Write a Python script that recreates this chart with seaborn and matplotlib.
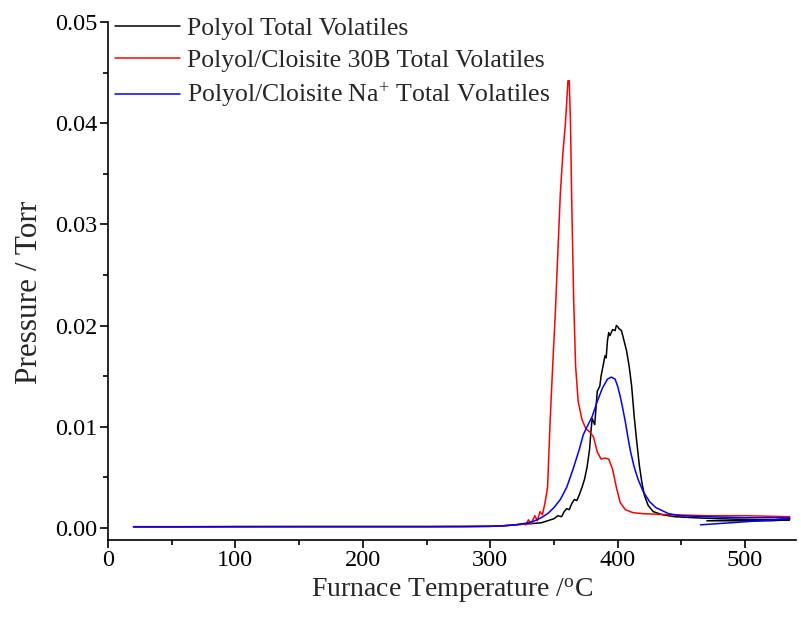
import matplotlib
matplotlib.use("Agg")
import matplotlib.pyplot as plt
from matplotlib.ticker import MultipleLocator, FormatStrFormatter
import seaborn as sns
import pandas as pd

# Furnace temperature (°C) and total volatile pressure (Torr) for each sample.
# The last points of some series follow the furnace back as it cools.
polyol_temp = [20, 50, 100, 150, 200, 250, 280, 300, 310, 320, 330, 340, 345, 350, 353,
               356, 358, 360, 362, 364, 366, 368, 370, 372, 374, 376, 378, 379, 380, 382,
               384, 386, 387, 389, 390, 391, 392, 393, 394, 396, 398, 399, 400, 401, 403,
               405, 407, 409, 411, 413, 415, 417, 419, 421, 424, 428, 435, 445, 460, 480,
               510, 535, 520, 490, 470]
polyol_p = [0.0001, 0.0001, 0.00012, 0.00012, 0.00012, 0.00012, 0.00013, 0.00015, 0.0002,
            0.0003, 0.0004, 0.0005, 0.0007, 0.0009, 0.0012, 0.0011, 0.0016, 0.0019, 0.0018,
            0.0024, 0.0028, 0.0027, 0.0033, 0.0040, 0.0048, 0.0060, 0.0078, 0.0095, 0.0108,
            0.0102, 0.0135, 0.0140, 0.0150, 0.0163, 0.0170, 0.0168, 0.0185, 0.0193, 0.0190,
            0.0196, 0.0195, 0.0200, 0.0199, 0.0197, 0.0195, 0.0185, 0.0175, 0.0160, 0.0140,
            0.0110, 0.0085, 0.0062, 0.0045, 0.0032, 0.0022, 0.0016, 0.0013, 0.0011, 0.0010,
            0.0009, 0.0008, 0.0008, 0.0007, 0.0007, 0.0007]

c30b_temp = [20, 50, 100, 150, 200, 250, 280, 300, 310, 320, 325, 328, 330, 332, 335, 337,
             339, 341, 343, 345, 347, 349, 351, 353, 355, 357, 359, 360, 361, 362, 363,
             364, 365.5, 367, 369, 372, 375, 378, 381, 384, 387, 390, 393, 396, 399, 402,
             406, 412, 420, 440, 470, 500, 535]
c30b_p = [0.00012, 0.00012, 0.00013, 0.00013, 0.00013, 0.00013, 0.00014, 0.00016, 0.0002,
          0.0003, 0.0004, 0.0003, 0.0008, 0.0004, 0.0012, 0.0007, 0.0016, 0.0013, 0.0025,
          0.0040, 0.0105, 0.0160, 0.0210, 0.0270, 0.0330, 0.0370, 0.0400, 0.0420, 0.0442,
          0.0442, 0.0400, 0.0320, 0.0225, 0.0160, 0.0125, 0.0107, 0.0098, 0.0095, 0.0090,
          0.0075, 0.0068, 0.0069, 0.0068, 0.0058, 0.0040, 0.0025, 0.0018, 0.0015, 0.0014,
          0.0013, 0.0012, 0.0012, 0.0011]

cna_temp = [20, 50, 100, 150, 200, 250, 280, 300, 310, 320, 330, 335, 340, 345, 350, 355,
            360, 365, 370, 373, 376, 380, 384, 388, 392, 395, 398, 400, 402, 404, 406, 408,
            410, 413, 416, 420, 425, 430, 440, 450, 470, 500, 535, 535, 500, 465]
cna_p = [0.0001, 0.0001, 0.00011, 0.00012, 0.00012, 0.00012, 0.00013, 0.00015, 0.0002,
         0.0003, 0.0005, 0.0007, 0.0010, 0.0014, 0.0020, 0.0028, 0.0040, 0.0058, 0.0078,
         0.0092, 0.0100, 0.0110, 0.0125, 0.0138, 0.0147, 0.0149, 0.0147, 0.0140, 0.0130,
         0.0118, 0.0105, 0.0090, 0.0076, 0.0060, 0.0048, 0.0036, 0.0026, 0.0020, 0.0014,
         0.0012, 0.0011, 0.0010, 0.0010, 0.0009, 0.0006, 0.0003]

series_names = ["Polyol Total Volatiles",
                "Polyol/Cloisite 30B Total Volatiles",
                "Polyol/Cloisite Na$^{+}$ Total Volatiles"]
series_colors = ["black", "#ff0000", "#0000ff"]

sns.set_theme(style="ticks")
plt.rcParams["font.family"] = ["Liberation Serif", "DejaVu Serif"]
plt.rcParams["mathtext.fontset"] = "custom"
plt.rcParams["mathtext.rm"] = "Liberation Serif"
plt.rcParams["mathtext.it"] = "Liberation Serif:italic"

fig = plt.figure(figsize=(8.01, 6.29), dpi=100)
ax = fig.add_axes([0.1348, 0.1415, 0.859, 0.8235])

for name, color, t, p in zip(series_names, series_colors,
                             [polyol_temp, c30b_temp, cna_temp],
                             [polyol_p, c30b_p, cna_p]):
    df = pd.DataFrame({"T": t, "P": p})
    sns.lineplot(data=df, x="T", y="P", sort=False, estimator=None,
                 color=color, linewidth=1.1, label=name, ax=ax)

ax.set_xlim(0, 540)
ax.set_ylim(-0.0012, 0.05)
ax.xaxis.set_major_locator(MultipleLocator(100))
ax.xaxis.set_minor_locator(MultipleLocator(50))
ax.yaxis.set_major_locator(MultipleLocator(0.01))
ax.yaxis.set_minor_locator(MultipleLocator(0.005))
ax.yaxis.set_major_formatter(FormatStrFormatter("%.2f"))

for side in ("top", "right"):
    ax.spines[side].set_visible(False)
for side in ("left", "bottom"):
    ax.spines[side].set_linewidth(1.2)
    ax.spines[side].set_color("black")

ax.tick_params(which="major", direction="out", length=5.5, width=1.2,
               labelsize=17.5, colors="black", pad=2)
ax.tick_params(which="minor", direction="out", length=3.5, width=1.2, colors="black")

ax.set_xlabel("Furnace Temperature /$^{\\mathrm{o}}$C", fontsize=20, labelpad=4)
ax.set_ylabel("Pressure / Torr", fontsize=22.5)
ax.yaxis.set_label_coords(-0.093, 0.479)

ax.legend(loc="upper left", bbox_to_anchor=(0.01, 1.01), frameon=False, fontsize=18.5,
          handlelength=2.53, handletextpad=0.27, labelspacing=0.36,
          borderaxespad=0.0, borderpad=0.0)

fig.savefig("out.png", dpi=100)
